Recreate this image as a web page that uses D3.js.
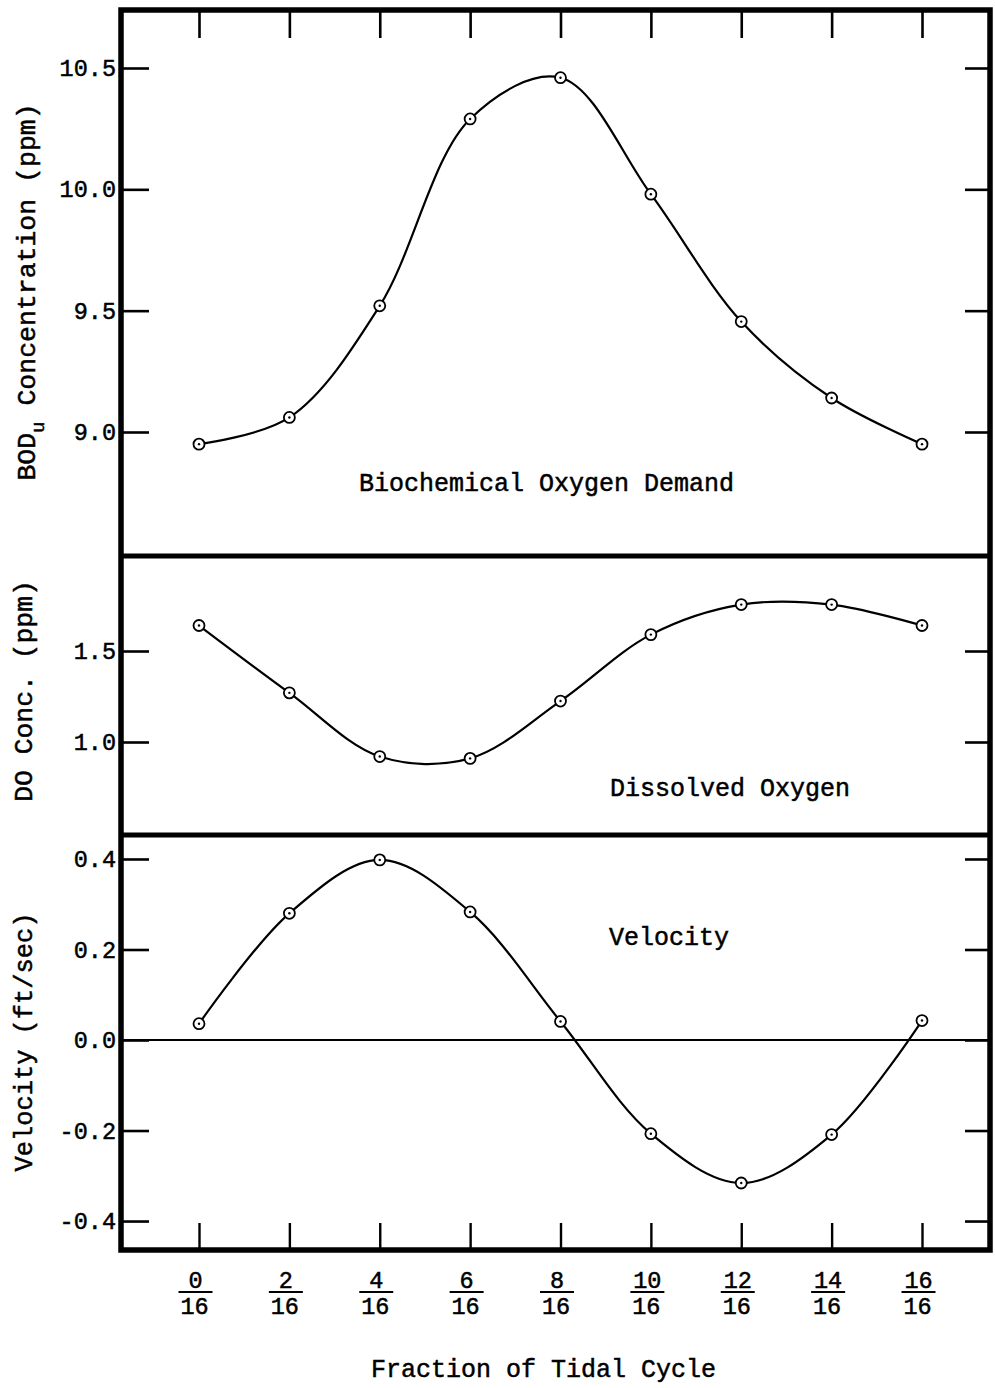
<!DOCTYPE html>
<html>
<head>
<meta charset="utf-8">
<script src="https://cdn.jsdelivr.net/npm/d3@7"></script>
<style>
  html, body { margin: 0; padding: 0; background: #fff; }
  svg { display: block; }
  text { font-family: "Liberation Mono", "DejaVu Sans Mono", monospace; fill: #000; }
</style>
</head>
<body>
<div id="chart"></div>
<script>
// ---- data ----
const tidalSteps = [0, 2, 4, 6, 8, 10, 12, 14, 16];
const tidalNumerators = ["0", "2", "4", "6", "8", "10", "12", "14", "16"];
const tidalDenominator = "16";

const bodValues = [8.95, 9.06, 9.52, 10.29, 10.46, 9.98, 9.455, 9.14, 8.95];
const doValues  = [1.64, 1.27, 0.92, 0.91, 1.225, 1.59, 1.755, 1.755, 1.64];
const velValues = [0.036, 0.28, 0.398, 0.283, 0.041, -0.207, -0.316, -0.209, 0.043];

const bodTicks = [9.0, 9.5, 10.0, 10.5];
const bodTickLabels = ["9.0", "9.5", "10.0", "10.5"];
const doTicks = [1.0, 1.5];
const doTickLabels = ["1.0", "1.5"];
const velTicks = [-0.4, -0.2, 0.0, 0.2, 0.4];
const velTickLabels = ["-0.4", "-0.2", "0.0", "0.2", "0.4"];

// ---- layout ----
const W = 995, H = 1388;
const left = 121, right = 990;
const panels = [
  { top: 10,  bottom: 556,  domain: [8.489, 10.739], values: bodValues, ticks: bodTicks, labels: bodTickLabels,
    title: "Biochemical Oxygen Demand", titleX: 359, titleY: 484, ylab: "BOD", ylabSub: "u", ylabRest: " Concentration (ppm)", ylabX: 28, ylabY: 292, ylabSize: 26.5 },
  { top: 556, bottom: 835,  domain: [0.489, 2.022], values: doValues, ticks: doTicks, labels: doTickLabels,
    title: "Dissolved Oxygen", titleX: 610, titleY: 789, ylab: "DO Conc. (ppm)", ylabX: 25, ylabY: 691, ylabSize: 26.4 },
  { top: 835, bottom: 1250, domain: [-0.464, 0.453], values: velValues, ticks: velTicks, labels: velTickLabels,
    title: "Velocity", titleX: 609, titleY: 938, ylab: "Velocity (ft/sec)", ylabX: 25, ylabY: 1042, ylabSize: 25.4, zero: true }
];

const svg = d3.select("#chart").append("svg")
  .attr("width", W).attr("height", H).attr("viewBox", `0 0 ${W} ${H}`);

const x = d3.scaleLinear().domain([0, 16]).range([199, 922]);

const line = d3.line().curve(d3.curveCatmullRom.alpha(0.5));

panels.forEach((p, pi) => {
  const y = d3.scaleLinear().domain(p.domain).range([p.bottom, p.top]);

  // left axis (ticks inward)
  const la = svg.append("g").attr("transform", `translate(${left},0)`)
    .call(d3.axisLeft(y).tickValues(p.ticks).tickSizeInner(-28).tickSizeOuter(0).tickPadding(5)
      .tickFormat((d, i) => p.labels[i]));
  la.select(".domain").remove();
  la.selectAll(".tick line").attr("stroke", "#000").attr("stroke-width", 2.6);
  la.selectAll(".tick text").attr("font-size", 23.5).attr("stroke", "#000").attr("stroke-width", 0.5)
    .attr("font-family", "Liberation Mono");

  // right axis (ticks inward, no labels)
  const ra = svg.append("g").attr("transform", `translate(${right},0)`)
    .call(d3.axisRight(y).tickValues(p.ticks).tickSizeInner(-25).tickSizeOuter(0).tickFormat(""));
  ra.select(".domain").remove();
  ra.selectAll(".tick line").attr("stroke", "#000").attr("stroke-width", 2.6);

  // zero line
  if (p.zero) {
    svg.append("line").attr("x1", left).attr("x2", right)
      .attr("y1", y(0)).attr("y2", y(0)).attr("stroke", "#000").attr("stroke-width", 2);
  }

  // curve
  const pts = tidalSteps.map((s, i) => [x(s), y(p.values[i])]);
  svg.append("path").attr("d", line(pts)).attr("fill", "none")
    .attr("stroke", "#000").attr("stroke-width", 2.2);

  // markers
  const m = svg.append("g").selectAll("g").data(pts).join("g")
    .attr("transform", d => `translate(${d[0]},${d[1]})`);
  m.append("circle").attr("r", 5.5).attr("fill", "#fff").attr("stroke", "#000").attr("stroke-width", 1.8);
  m.append("circle").attr("r", 1.2).attr("fill", "#000");

  // panel title
  svg.append("text").attr("x", p.titleX).attr("y", p.titleY)
    .attr("dominant-baseline", "central").attr("font-size", 25)
    .attr("stroke", "#000").attr("stroke-width", 0.5)
    .text(p.title);

  // y label
  const yl = svg.append("text")
    .attr("transform", `translate(${p.ylabX},${p.ylabY}) rotate(-90)`)
    .attr("text-anchor", "middle").attr("dominant-baseline", "central")
    .attr("font-size", p.ylabSize).attr("stroke", "#000").attr("stroke-width", 0.5);
  if (p.ylabSub) {
    yl.append("tspan").text(p.ylab);
    yl.append("tspan").attr("baseline-shift", "sub").attr("font-size", 19).text(p.ylabSub);
    yl.append("tspan").text(p.ylabRest);
  } else {
    yl.text(p.ylab);
  }
});

// top x ticks (inward, no labels)
const ta = svg.append("g").attr("transform", `translate(0,${panels[0].top})`)
  .call(d3.axisTop(x).tickValues(tidalSteps).tickSizeInner(-28).tickSizeOuter(0).tickFormat(""));
ta.select(".domain").remove();
ta.selectAll(".tick line").attr("stroke", "#000").attr("stroke-width", 2.6);

// bottom x axis with fraction labels
const ba = svg.append("g").attr("transform", `translate(0,${panels[2].bottom})`)
  .call(d3.axisBottom(x).tickValues(tidalSteps).tickSizeInner(-27).tickSizeOuter(0).tickFormat(""));
ba.select(".domain").remove();
ba.selectAll(".tick line").attr("stroke", "#000").attr("stroke-width", 2.4);
ba.selectAll(".tick").each(function (d, i) {
  const g = d3.select(this);
  g.append("text").attr("x", -4).attr("y", 31).attr("text-anchor", "middle")
    .attr("dominant-baseline", "central").attr("font-size", 23.5)
    .attr("stroke", "#000").attr("stroke-width", 0.5).text(tidalNumerators[i]);
  g.append("line").attr("x1", -21).attr("x2", 13).attr("y1", 42).attr("y2", 42)
    .attr("stroke", "#000").attr("stroke-width", 2);
  g.append("text").attr("x", -5).attr("y", 57).attr("text-anchor", "middle")
    .attr("dominant-baseline", "central").attr("font-size", 23.5)
    .attr("stroke", "#000").attr("stroke-width", 0.5).text(tidalDenominator);
});

// x title
svg.append("text").attr("x", 371).attr("y", 1370).attr("dominant-baseline", "central")
  .attr("font-size", 25).attr("stroke", "#000").attr("stroke-width", 0.5)
  .text("Fraction of Tidal Cycle");

// frame
const frame = svg.append("g").attr("fill", "none").attr("stroke", "#000");
frame.append("rect").attr("x", left).attr("y", panels[0].top)
  .attr("width", right - left).attr("height", panels[2].bottom - panels[0].top)
  .attr("stroke-width", 5.5);
[panels[0].bottom, panels[1].bottom].forEach(yy => {
  frame.append("line").attr("x1", left).attr("x2", right).attr("y1", yy).attr("y2", yy)
    .attr("stroke-width", 5);
});
</script>
</body>
</html>
